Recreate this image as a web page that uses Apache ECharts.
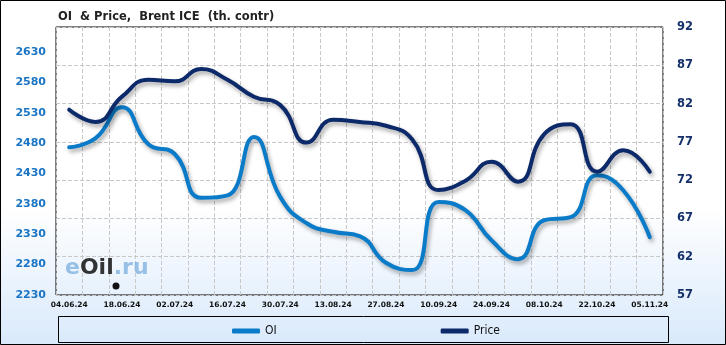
<!DOCTYPE html>
<html>
<head>
<meta charset="utf-8">
<script src="https://cdn.jsdelivr.net/npm/echarts@6/dist/echarts.min.js"></script>
<style>
html,body{margin:0;padding:0;background:#fff;}
#c{width:726px;height:345px;}
</style>
</head>
<body>
<div id="c"></div>
<script>
var dates = ['04.06.24','11.06.24','18.06.24','25.06.24','02.07.24','09.07.24','16.07.24','23.07.24','30.07.24','06.08.24','13.08.24','20.08.24','27.08.24','03.09.24','10.09.24','17.09.24','24.09.24','01.10.24','08.10.24','15.10.24','22.10.24','29.10.24','05.11.24'];
var oiValues = [2473,2488,2539,2478,2462,2390,2394,2490,2391,2348,2334,2327,2283,2271,2383,2370,2320,2289,2353,2358,2427,2402,2325];
var priceValues = [81.2,79.6,82.9,85.1,84.9,86.5,85.1,82.9,81.8,76.9,79.9,79.6,79.1,77.3,70.7,71.9,74.4,71.8,78.0,79.3,73.1,75.9,73.1];
var leftMin = 2230, leftMax = 2671, leftStep = 50;
var rightMin = 57, rightMax = 92, rightStep = 5;
var titleText = 'OI  & Price,  Brent ICE  (th. contr)';

var chart = echarts.init(document.getElementById('c'));
var shadow = {shadowColor:'rgba(0,0,0,0.35)', shadowBlur:4, shadowOffsetX:2, shadowOffsetY:3};
chart.setOption({
  animation:false,
  backgroundColor:{type:'linear',x:0,y:0,x2:0,y2:1,colorStops:[{offset:0,color:'#ffffff'},{offset:0.6,color:'#ffffff'},{offset:1,color:'#d9e9fb'}]},
  title:{text:titleText,left:53,top:6,textStyle:{fontFamily:'DejaVu Sans',fontWeight:'bold',fontSize:11.5,color:'#222'}},
  grid:{left:56,right:63,top:27,bottom:50,show:true,borderColor:'#000',borderWidth:1,backgroundColor:'transparent'},
  legend:{left:227,top:320,itemGap:164,itemWidth:28,itemHeight:5,icon:'roundRect',
    textStyle:{fontFamily:"'DejaVu Sans Condensed','Liberation Sans Narrow',sans-serif",fontSize:12,color:'#111'},
    data:['OI','Price']},
  xAxis:{type:'category',data:dates,boundaryGap:true,
    axisLine:{show:false},axisTick:{show:false},
    axisLabel:{interval:1,margin:6,fontFamily:'DejaVu Sans',fontWeight:'bold',fontSize:7.5,color:'#111'},
    splitLine:{show:true,interval:0,lineStyle:{type:'dashed',color:'#c8c8c8'}}},
  yAxis:[
    {type:'value',position:'left',min:leftMin,max:leftMax,interval:leftStep,
      axisLine:{show:false},axisTick:{show:false},splitLine:{show:false},
      axisLabel:{margin:10,fontFamily:'DejaVu Sans',fontWeight:'bold',fontSize:11,color:'#1a74c4',
        formatter:function(v){return v>2640?'':String(v);}}},
    {type:'value',position:'right',min:rightMin,max:rightMax,interval:rightStep,
      axisLine:{show:false},axisTick:{show:false},
      splitLine:{show:true,lineStyle:{type:'dashed',color:'#c8c8c8'}},
      axisLabel:{margin:14,fontFamily:'DejaVu Sans',fontWeight:'bold',fontSize:11.5,color:'#15306b'}}
  ],
  graphic:[
    {type:'text',left:65,top:257,z:1,style:{rich:{a:{fill:'#86b6e2',fontSize:22,fontFamily:'DejaVu Sans',fontWeight:'bold'},b:{fill:'#111',fontSize:22,fontFamily:'DejaVu Sans',fontWeight:'bold'}},text:'{a|e}{b|Oil}{a|.ru}',opacity:0.85}},
    {type:'circle',shape:{cx:116,cy:286,r:3.5},style:{fill:'#111'},z:1},
    {type:'rect',shape:{x:58.5,y:316.5,width:610,height:26},style:{fill:'none',stroke:'#000',lineWidth:1},z:10},
    {type:'rect',shape:{x:0.5,y:0.5,width:725,height:344},style:{fill:'none',stroke:'#000',lineWidth:1},z:10}
  ],
  series:[
    {name:'OI',type:'line',yAxisIndex:0,data:oiValues,smooth:true,showSymbol:false,symbol:'none',
      color:'#0a7bc8',lineStyle:Object.assign({width:4,color:'#0a7bc8',cap:'round'},shadow)},
    {name:'Price',type:'line',yAxisIndex:1,data:priceValues,smooth:true,showSymbol:false,symbol:'none',
      color:'#0c2a6a',lineStyle:Object.assign({width:4,color:'#0c2a6a',cap:'round'},shadow)}
  ]
});
</script>
</body>
</html>
